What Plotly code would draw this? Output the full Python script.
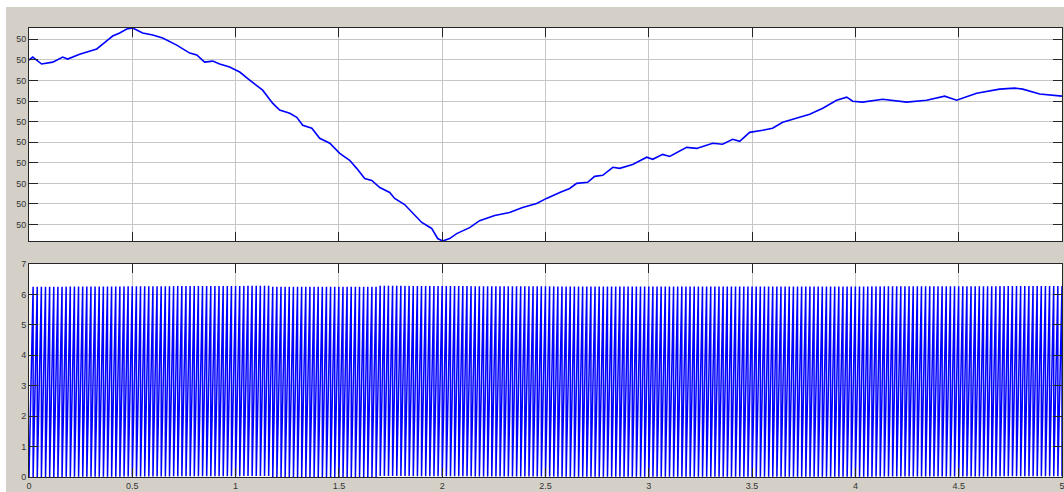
import numpy as np
import plotly.graph_objects as go
from plotly.subplots import make_subplots

# ---- data ----
# top panel: frequency (Hz) vs time (s)
freq_t = [0.000, 0.018, 0.061, 0.115, 0.163, 0.187, 0.245, 0.279, 0.328, 0.376,
          0.405, 0.439, 0.473, 0.502, 0.550, 0.599, 0.647, 0.715, 0.778, 0.812,
          0.850, 0.889, 0.923, 0.971, 1.020, 1.068, 1.131, 1.179, 1.213, 1.262,
          1.296, 1.325, 1.369, 1.407, 1.456, 1.504, 1.552, 1.586, 1.625, 1.659,
          1.698, 1.746, 1.770, 1.818, 1.857, 1.901, 1.949, 1.978, 2.002, 2.036,
          2.070, 2.133, 2.181, 2.254, 2.326, 2.389, 2.457, 2.505, 2.569, 2.617,
          2.651, 2.704, 2.738, 2.777, 2.826, 2.859, 2.922, 2.990, 3.019, 3.067,
          3.101, 3.183, 3.232, 3.309, 3.357, 3.406, 3.440, 3.488, 3.551, 3.599,
          3.648, 3.716, 3.779, 3.842, 3.909, 3.958, 3.987, 4.035, 4.132, 4.248,
          4.345, 4.432, 4.490, 4.587, 4.698, 4.771, 4.810, 4.892, 5.000]
freq_hz = [50.00399, 50.00414, 50.00380, 50.00389, 50.00414, 50.00404, 50.00428, 50.00438, 50.00453, 50.00492,
           50.00516, 50.00531, 50.00550, 50.00555, 50.00531, 50.00521, 50.00506, 50.00472, 50.00433, 50.00424,
           50.00389, 50.00394, 50.00380, 50.00365, 50.00341, 50.00302, 50.00253, 50.00190, 50.00156, 50.00141,
           50.00121, 50.00082, 50.00068, 50.00019, 49.99995, 49.99946, 49.99912, 49.99873, 49.99824, 49.99814,
           49.99780, 49.99756, 49.99727, 49.99697, 49.99658, 49.99610, 49.99581, 49.99532, 49.99520, 49.99532,
           49.99556, 49.99585, 49.99619, 49.99644, 49.99658, 49.99683, 49.99702, 49.99727, 49.99756, 49.99775,
           49.99800, 49.99805, 49.99834, 49.99839, 49.99878, 49.99873, 49.99892, 49.99927, 49.99917, 49.99941,
           49.99931, 49.99975, 49.99970, 49.99995, 49.99990, 50.00014, 50.00004, 50.00048, 50.00058, 50.00068,
           50.00097, 50.00117, 50.00136, 50.00165, 50.00204, 50.00219, 50.00199, 50.00195, 50.00209, 50.00195,
           50.00204, 50.00224, 50.00204, 50.00238, 50.00258, 50.00263, 50.00258, 50.00234, 50.00224]

x_ticks = [0, 0.5, 1, 1.5, 2, 2.5, 3, 3.5, 4, 4.5, 5]
top_y_ticks = [49.996, 49.997, 49.998, 49.999, 50.000, 50.001, 50.002, 50.003, 50.004, 50.005]
bottom_y_ticks = [0, 1, 2, 3, 4, 5, 6, 7]

# bottom panel: wrapped phase angle (rad) obtained by integrating the frequency above
sample_step = 1e-4
t = np.arange(0, 5 + sample_step / 2, sample_step)
f_interp = np.interp(t, freq_t, freq_hz)
phase = np.concatenate([[0.0], np.cumsum(2 * np.pi * f_interp[:-1] * sample_step)])
phase_wrapped = np.mod(phase, 2 * np.pi)

# ---- figure ----
W, H = 1064, 492
ML, MR, MT, MB = 29, 2, 28, 15
fig = make_subplots(rows=2, cols=1, shared_xaxes=False, vertical_spacing=0.0)
fig.add_trace(go.Scatter(x=freq_t, y=freq_hz, mode="lines",
                         line=dict(color="#0000ff", width=1.6), showlegend=False), row=1, col=1)
fig.add_trace(go.Scatter(x=t, y=phase_wrapped, mode="lines",
                         line=dict(color="#0000ff", width=1.5), showlegend=False), row=2, col=1)

plot_h = H - MT - MB
top_bottom_px = 241
bot_top_px = 264
fig.update_layout(
    yaxis=dict(domain=[(H - MB - top_bottom_px) / plot_h, 1]),
    yaxis2=dict(domain=[0, (H - MB - bot_top_px) / plot_h]),
)

axis_common = dict(showline=True, linecolor="#262626", linewidth=1, mirror="ticks",
                   ticks="inside", ticklen=9, tickwidth=1, tickcolor="#262626",
                   showgrid=True, gridcolor="#c6c6c6", gridwidth=1, zeroline=False,
                   automargin=False, ticklabeloverflow="allow",
                   tickfont=dict(family="Liberation Sans, Arial, sans-serif", size=9, color="#333333"))

fig.update_xaxes(range=[0, 5], tickvals=x_ticks, **axis_common)
fig.update_xaxes(showticklabels=False, row=1, col=1)
fig.update_xaxes(ticktext=[f"{v:g}" for v in x_ticks], row=2, col=1)
fig.update_yaxes(range=[min(freq_hz), max(freq_hz)], tickvals=top_y_ticks,
                 tickformat=".0f", row=1, col=1, **axis_common)
fig.update_yaxes(range=[0, 7], tickvals=bottom_y_ticks, row=2, col=1, **axis_common)

plot_w = W - ML - MR
fig.update_layout(
    width=W, height=H,
    margin=dict(l=ML, r=MR, t=MT, b=MB, pad=0, autoexpand=False),
    paper_bgcolor="#d4d0c8", plot_bgcolor="#ffffff",
    shapes=[
        dict(type="rect", xref="paper", yref="paper", layer="below",
             x0=-ML / plot_w, x1=(W - ML) / plot_w,
             y0=1 + (MT - 7) / plot_h, y1=1 + MT / plot_h,
             fillcolor="#ffffff", line=dict(width=0)),
        dict(type="rect", xref="paper", yref="paper", layer="below",
             x0=-ML / plot_w, x1=(6 - ML) / plot_w,
             y0=-MB / plot_h, y1=1 + MT / plot_h,
             fillcolor="#ffffff", line=dict(width=0)),
    ],
)

fig.write_html("out.html", config={"displayModeBar": False},
               post_script="document.body.style.margin='0';document.body.style.overflow='hidden';")
